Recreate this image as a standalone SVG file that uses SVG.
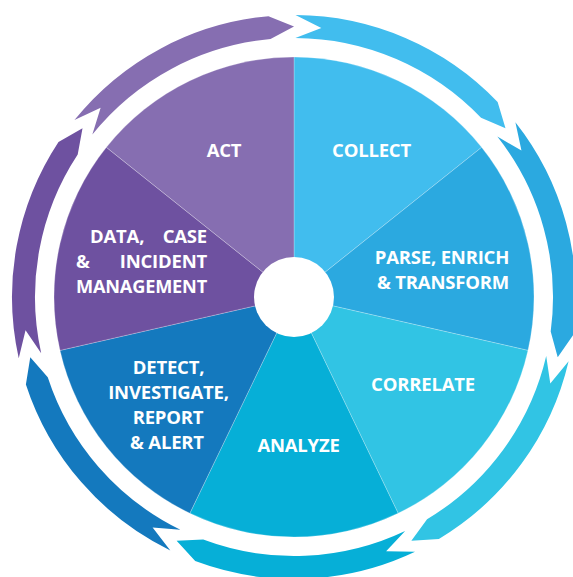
<svg xmlns="http://www.w3.org/2000/svg" xmlns:xlink="http://www.w3.org/1999/xlink" width="573" height="577" viewBox="0 0 573 577">
  <style>
    .slice { stroke: #ffffff; stroke-opacity: 0.3; stroke-width: 0.8; }
    .lbl { font-family: "Open Sans", "Liberation Sans", sans-serif; font-weight: 700; font-size: 18.5px; letter-spacing: -0.2px; fill: #ffffff; }
    .mid { text-anchor: middle; }
    .end { text-anchor: end; }
  </style>
  <defs>
    <path id="arrow" d="M295.48,15.00 A282,282 0 0 1 497.63,101.92 L505.49,128.35 L481.03,117.83 A259,259 0 0 0 295.36,38.00 L321.34,27.88 Z"/>
  </defs>
  <rect width="573" height="577" fill="#ffffff"/>

  <g id="connectors">
    <use xlink:href="#arrow" href="#arrow" fill="#41BDEE"/>
    <use xlink:href="#arrow" href="#arrow" fill="#2BA9E0" transform="rotate(51.428571 294 297)"/>
    <use xlink:href="#arrow" href="#arrow" fill="#31C4E4" transform="rotate(102.857143 294 297)"/>
    <use xlink:href="#arrow" href="#arrow" fill="#06AFD7" transform="rotate(154.285714 294 297)"/>
    <use xlink:href="#arrow" href="#arrow" fill="#1479BE" transform="rotate(205.714286 294 297)"/>
    <use xlink:href="#arrow" href="#arrow" fill="#6E51A0" transform="rotate(257.142857 294 297)"/>
    <use xlink:href="#arrow" href="#arrow" fill="#866EB1" transform="rotate(308.571429 294 297)"/>
  </g>

  <g id="collect">
    <path class="slice" fill="#41BDEE" d="M294,297 L294,57 A240,240 0 0 1 481.64,147.36 Z"/>
    <text class="lbl mid" x="371.5" y="157">COLLECT</text>
  </g>
  <g id="parse">
    <path class="slice" fill="#2BA9E0" d="M294,297 L481.64,147.36 A240,240 0 0 1 527.98,350.41 Z"/>
    <text class="lbl mid" x="442" y="264">PARSE, ENRICH</text>
    <text class="lbl mid" x="443" y="289">&amp; TRANSFORM</text>
  </g>
  <g id="correlate">
    <path class="slice" fill="#31C4E4" d="M294,297 L527.98,350.41 A240,240 0 0 1 398.13,513.23 Z"/>
    <text class="lbl mid" x="423" y="391">CORRELATE</text>
  </g>
  <g id="analyze">
    <path class="slice" fill="#06AFD7" d="M294,297 L398.13,513.23 A240,240 0 0 1 189.87,513.23 Z"/>
    <text class="lbl mid" x="298.5" y="452">ANALYZE</text>
  </g>
  <g id="detect">
    <path class="slice" fill="#1479BE" d="M294,297 L189.87,513.23 A240,240 0 0 1 60.02,350.41 Z"/>
    <text class="lbl mid" x="168.5" y="373.5">DETECT,</text>
    <text class="lbl mid" x="168.5" y="398.5">INVESTIGATE,</text>
    <text class="lbl mid" x="168" y="423.5">REPORT</text>
    <text class="lbl mid" x="167" y="448.5">&amp; ALERT</text>
  </g>
  <g id="data">
    <path class="slice" fill="#6E51A0" d="M294,297 L60.02,350.41 A240,240 0 0 1 106.36,147.36 Z"/>
    <text class="lbl" x="90" y="243">DATA,</text>
    <text class="lbl end" x="207" y="243">CASE</text>
    <text class="lbl" x="76" y="268">&amp;</text>
    <text class="lbl end" x="207" y="268">INCIDENT</text>
    <text class="lbl" x="76" y="293" textLength="131" lengthAdjust="spacingAndGlyphs">MANAGEMENT</text>
  </g>
  <g id="act">
    <path class="slice" fill="#866EB1" d="M294,297 L106.36,147.36 A240,240 0 0 1 294,57 Z"/>
    <text class="lbl mid" x="224" y="157">ACT</text>
  </g>
  <g id="hub">
    <circle cx="294" cy="297" r="40" fill="#ffffff"/>
  </g>
</svg>
